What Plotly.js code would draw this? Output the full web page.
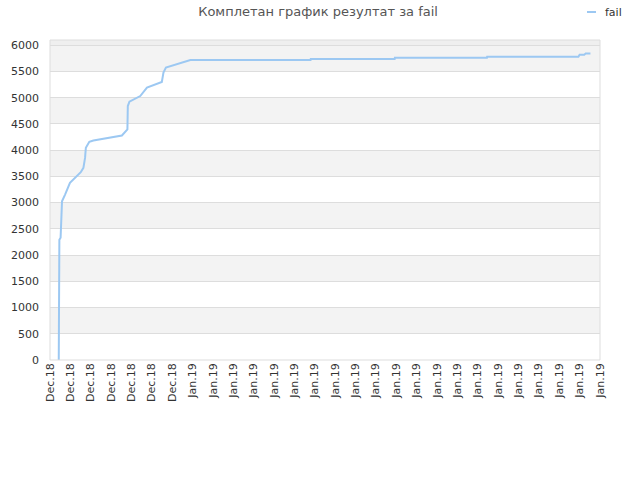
<!DOCTYPE html>
<html>
<head>
<meta charset="utf-8">
<script src="https://cdn.plot.ly/plotly-3.0.1.min.js"></script>
<style>html,body{margin:0;padding:0;background:#fff}#chart{width:640px;height:480px}</style>
</head>
<body>
<div id="chart"></div>
<script>
// Tick labels (one per tick position)
const tickLabels = [
  "Dec.18","Dec.18","Dec.18","Dec.18","Dec.18","Dec.18","Dec.18",
  "Jan.19","Jan.19","Jan.19","Jan.19","Jan.19","Jan.19","Jan.19",
  "Jan.19","Jan.19","Jan.19","Jan.19","Jan.19","Jan.19","Jan.19",
  "Jan.19","Jan.19","Jan.19","Jan.19","Jan.19","Jan.19","Jan.19"
];
const tickPos = tickLabels.map((_, i) => i);

// Series "fail": position along the time axis (tick units) and cumulative count
const timePos = [
  0.43, 0.43, 0.46, 0.46, 0.52, 0.54, 0.58, 0.59, 0.74, 0.90, 0.98,
  1.51, 1.64, 1.72, 1.76, 1.93, 2.13, 3.53, 3.80, 3.82, 3.90, 4.43,
  4.76, 5.49, 5.57, 5.69, 6.89, 12.79, 12.80, 16.92, 16.93, 21.45,
  21.46, 25.94, 26.00, 26.23, 26.30, 26.53
];
const failValues = [
  0, 955, 980, 2290, 2330, 2550, 2600, 3025, 3153, 3312, 3376,
  3580, 3664, 3853, 4044, 4159, 4185, 4280, 4395, 4841, 4925, 5032,
  5192, 5300, 5479, 5574, 5720, 5720, 5740, 5740, 5760, 5760,
  5780, 5780, 5818, 5818, 5845, 5845
];
const seriesName = 'fail';
const yTicks = [0,500,1000,1500,2000,2500,3000,3500,4000,4500,5000,5500,6000];
const grayBands = [[500,1000],[1500,2000],[2500,3000],[3500,4000],[4500,5000],[5500,6000]];
const lineColor = '#9cc8f2';

const shapes = grayBands.map(b => ({
  type: 'rect', xref: 'paper', yref: 'y', x0: 0, x1: 1, y0: b[0], y1: b[1],
  fillcolor: '#f3f3f3', line: {width: 0}, layer: 'below'
}));
shapes.push({type:'rect', xref:'paper', yref:'y', x0:0, x1:1, y0:6000, y1:6100,
  fillcolor:'#efefef', line:{width:0}, layer:'below'});
shapes.push({type:'rect', xref:'paper', yref:'paper', x0:0, x1:1, y0:0, y1:1,
  fillcolor:'rgba(0,0,0,0)', line:{color:'#dddddd', width:1}});
// legend key
shapes.push({type:'line', xref:'paper', yref:'paper', x0:0.9764, x1:0.9927, y0:1.0875, y1:1.0875,
  line:{color: lineColor, width: 2}});

const trace = {
  x: timePos, y: failValues, type: 'scatter', mode: 'lines', name: seriesName,
  line: {color: lineColor, width: 2}
};

const layout = {
  width: 640, height: 480,
  margin: {l: 50, r: 40, t: 40, b: 120},
  paper_bgcolor: '#ffffff', plot_bgcolor: '#ffffff',
  font: {family: 'DejaVu Sans, sans-serif', size: 11, color: '#333333'},
  title: {text: 'Комплетан график резултат за fail', x: 0.497, xanchor: 'center', y: 0.977, yanchor: 'middle',
          font: {family: 'DejaVu Sans, sans-serif', size: 13, color: '#555555'}},
  showlegend: false,
  annotations: [{text: seriesName, xref: 'paper', yref: 'paper', x: 1.0055, y: 1.0875,
                 xanchor: 'left', yanchor: 'middle', showarrow: false,
                 font: {size: 11, color: '#333333'}}],
  xaxis: {range: [0, 27], tickmode: 'array', tickvals: tickPos, ticktext: tickLabels,
          tickangle: -90, showgrid: false, zeroline: false, showline: false,
          ticks: '', tickfont: {size: 11, color: '#333333'}, fixedrange: true},
  yaxis: {range: [0, 6100], tickmode: 'array', tickvals: yTicks, ticktext: yTicks.map(String),
          showgrid: true, gridcolor: '#dddddd', gridwidth: 1, zeroline: false, showline: false,
          ticks: '', ticklabelstandoff: 10, tickfont: {size: 11, color: '#333333'}, fixedrange: true},
  shapes: shapes
};

Plotly.newPlot('chart', [trace], layout, {displayModeBar: false, staticPlot: true});
</script>
</body>
</html>
